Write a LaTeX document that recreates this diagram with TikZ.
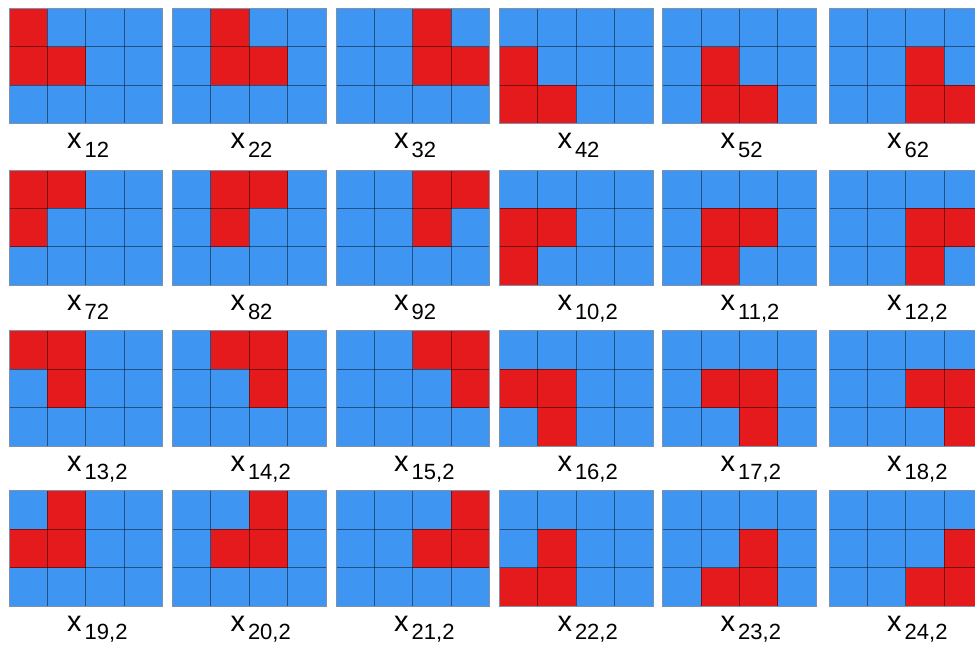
\documentclass[tikz,border=0pt]{standalone}
\usepackage{fontspec}
\setmainfont{Liberation Sans}
\definecolor{tileblue}{RGB}{62,150,242}
\definecolor{tilered}{RGB}{228,26,28}
\definecolor{tileedge}{RGB}{125,145,170}
\tikzset{
  blue cell/.style={fill=tileblue},
  red cell/.style={fill=tilered},
  cell line/.style={draw=black, draw opacity=0.45, line width=0.9pt},
  tile edge/.style={draw=tileedge, line width=1pt},
  tag/.style={anchor=base west, inner sep=0pt, font=\fontsize{29}{29}\selectfont},
}
\def\cellsz{38.45}
\newcommand{\tagsub}[1]{\kern3pt\raisebox{-8.5pt}{\fontsize{22}{22}\selectfont #1}}
% #1 name, #2/#3 left/top, #4/#5 col/row of the 2x2 block,
% #6/#7 the cell of the block that stays blue, #8 subscript
\newcommand{\tile}[8]{%
  \fill[blue cell] (#2,#3) rectangle ++(153.8,115.35);
  \foreach \dx in {0,1}{
    \foreach \dy in {0,1}{
      \pgfmathtruncatemacro\gap{and(\dx==#6,\dy==#7)}
      \ifnum\gap=0
        \fill[red cell] ({#2+(#4+\dx)*\cellsz},{#3+(#5+\dy)*\cellsz}) rectangle ++(\cellsz,\cellsz);
      \fi
    }
  }
  \foreach \i in {1,2,3}
    \draw[cell line] ({#2+\i*\cellsz},#3) -- ++(0,115.35);
  \foreach \j in {1,2}
    \draw[cell line] (#2,{#3+\j*\cellsz}) -- ++(153.8,0);
  \draw[tile edge] (#2,#3) rectangle ++(153.8,115.35);
  \node[tag] (#1) at ({#2+58},{#3+140.5}) {x\tagsub{#8}};
}

\begin{document}
\begin{tikzpicture}[x=1pt, y=-1pt]
  \useasboundingbox (0,0) rectangle (975,648);
  \clip (0,0) rectangle (975,648);

  % ----- row 1 ------------------------------------------------------------
  \tile{lbl12}{9}{8.3}{0}{0}{1}{0}{12}
  \tile{lbl22}{172.3}{8.3}{1}{0}{1}{0}{22}
  \tile{lbl32}{336}{8.3}{2}{0}{1}{0}{32}
  \tile{lbl42}{499.3}{8.3}{0}{1}{1}{0}{42}
  \tile{lbl52}{662.5}{8.3}{1}{1}{1}{0}{52}
  \tile{lbl62}{829}{8.3}{2}{1}{1}{0}{62}

  % ----- row 2 ------------------------------------------------------------
  \tile{lbl72}{9}{170}{0}{0}{1}{1}{72}
  \tile{lbl82}{172.3}{170}{1}{0}{1}{1}{82}
  \tile{lbl92}{336}{170}{2}{0}{1}{1}{92}
  \tile{lbl10-2}{499.3}{170}{0}{1}{1}{1}{10,2}
  \tile{lbl11-2}{662.5}{170}{1}{1}{1}{1}{11,2}
  \tile{lbl12-2}{829}{170}{2}{1}{1}{1}{12,2}

  % ----- row 3 ------------------------------------------------------------
  \tile{lbl13-2}{9}{330.7}{0}{0}{0}{1}{13,2}
  \tile{lbl14-2}{172.3}{330.7}{1}{0}{0}{1}{14,2}
  \tile{lbl15-2}{336}{330.7}{2}{0}{0}{1}{15,2}
  \tile{lbl16-2}{499.3}{330.7}{0}{1}{0}{1}{16,2}
  \tile{lbl17-2}{662.5}{330.7}{1}{1}{0}{1}{17,2}
  \tile{lbl18-2}{829}{330.7}{2}{1}{0}{1}{18,2}

  % ----- row 4 ------------------------------------------------------------
  \tile{lbl19-2}{9}{490.7}{0}{0}{0}{0}{19,2}
  \tile{lbl20-2}{172.3}{490.7}{1}{0}{0}{0}{20,2}
  \tile{lbl21-2}{336}{490.7}{2}{0}{0}{0}{21,2}
  \tile{lbl22-2}{499.3}{490.7}{0}{1}{0}{0}{22,2}
  \tile{lbl23-2}{662.5}{490.7}{1}{1}{0}{0}{23,2}
  \tile{lbl24-2}{829}{490.7}{2}{1}{0}{0}{24,2}

\end{tikzpicture}
\end{document}
